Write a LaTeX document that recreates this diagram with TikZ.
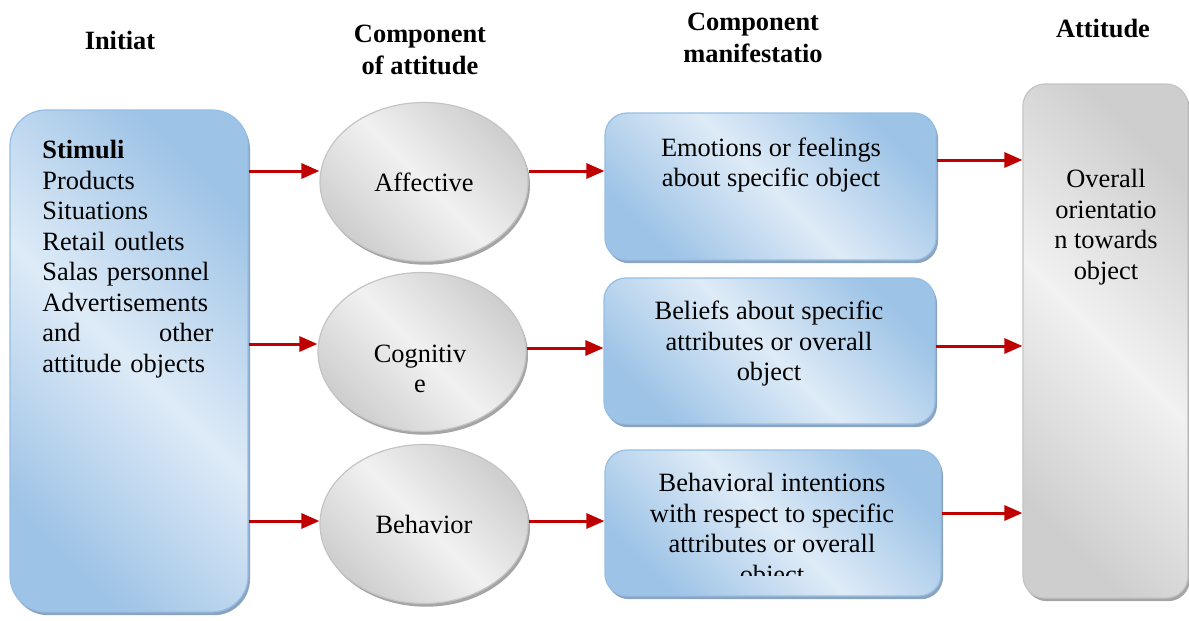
\documentclass[tikz,border=0pt]{standalone}
\usepackage{fontspec}
\setmainfont{Liberation Serif}
\usepackage{tikz}
\usetikzlibrary{shapes,arrows.meta,shadows}

\definecolor{bluedk}{RGB}{157,195,230}
\definecolor{bluelt}{RGB}{222,235,247}
\definecolor{blueln}{RGB}{150,190,228}
\definecolor{shblue}{RGB}{140,163,192}
\definecolor{grydk}{RGB}{206,206,206}
\definecolor{grylt}{RGB}{241,241,241}
\definecolor{gryln}{RGB}{196,196,196}
\definecolor{shgray}{RGB}{165,165,165}
\definecolor{arrred}{RGB}{192,0,0}

\begin{document}
\begin{tikzpicture}[x=0.5pt,y=-0.5pt,
  font=\fontsize{13.2}{15.25}\selectfont,
  head/.style={font=\fontsize{13.2}{16}\selectfont\bfseries, align=center},
  txt/.style={align=center, inner sep=0pt},
  bluebox/.style={draw=blueln, line width=0.6pt, rounded corners=11pt, inner sep=0pt,
    left color=bluedk, right color=bluedk, middle color=bluelt, shading angle=135,
    drop shadow={shadow xshift=1pt, shadow yshift=-1.6pt, fill=shblue, opacity=1}},
  greybox/.style={draw=gryln, line width=0.6pt, rounded corners=11pt, inner sep=0pt,
    left color=grydk, right color=grydk, middle color=grylt, shading angle=135,
    drop shadow={shadow xshift=1pt, shadow yshift=-1.6pt, fill=shgray, opacity=1}},
  comp/.style={greybox, ellipse, minimum width=104pt, minimum height=79.5pt, align=center},
  arr/.style={draw=arrred, line width=1.5pt, -{Triangle[length=9pt,width=7.5pt]}}]
\useasboundingbox (0,0) rectangle (1189,621);

% headings
\node[head] (hinit) at (120,40) {Initiat};
\node[head] (hcomp) at (420,50) {Component\\of attitude};
\node[head] (hman) at (753,38) {Component\\manifestatio};
\node[head] (hatt) at (1103,29) {Attitude};

% shapes
\node[bluebox, rounded corners=18pt, minimum width=119pt, minimum height=251pt] (stim) at (129,361) {};
\node[anchor=north west, inner sep=0pt, text width=85.5pt, align=left] (stimtxt) at (42,140)
  {\textbf{Stimuli}\\Products\\Situations\\Retail outlets\\Salas personnel\\Advertisements\\and\hfill other\\attitude objects};

\node[comp] (aff) at (424,182) {Affective};
\node[comp] (cog) at (422,352) {};
\node[txt] (cogtxt) at (420,369) {Cognitiv\\e};
\node[comp] (beh) at (424,524) {Behavior};

\node[bluebox, minimum width=165.5pt, minimum height=73.5pt] (emo) at (770.5,186.5) {};
\node[txt] (emotxt) at (771,165) {Emotions or feelings\\about specific object};
\node[bluebox, minimum width=165.5pt, minimum height=73pt] (bel) at (769.5,351) {};
\node[txt] (beltxt) at (769,344) {Beliefs about specific\\attributes or overall\\object};
\node[bluebox, minimum width=168pt, minimum height=73pt] (bin) at (773,523) {};
\begin{scope}
  \clip (bin.north west) rectangle (bin.east |- 0,575);
  \node[txt] (bintxt) at (772,531) {Behavioral intentions\\with respect to specific\\attributes or overall\\object};
\end{scope}

\node[greybox, minimum width=82.5pt, minimum height=257pt] (ovr) at (1105.5,341) {};
\node[txt] (ovrtxt) at (1106,227) {Overall\\orientatio\\n towards\\object};

% connectors
\draw[arr] (stim.east |- 0,171) -- (aff.west |- 0,171);
\draw[arr] (stim.east |- 0,344) -- (cog.west |- 0,344);
\draw[arr] (stim.east |- 0,521) -- (beh.west |- 0,521);
\draw[arr] (aff.east |- 0,171) -- (emo.west |- 0,171);
\draw[arr] (cog.east |- 0,348) -- (bel.west |- 0,348);
\draw[arr] (beh.east |- 0,521) -- (bin.west |- 0,521);
\draw[arr] (emo.east |- 0,160) -- (ovr.west |- 0,160);
\draw[arr] (bel.east |- 0,346) -- (ovr.west |- 0,346);
\draw[arr] (bin.east |- 0,513) -- (ovr.west |- 0,513);
\end{tikzpicture}
\end{document}
